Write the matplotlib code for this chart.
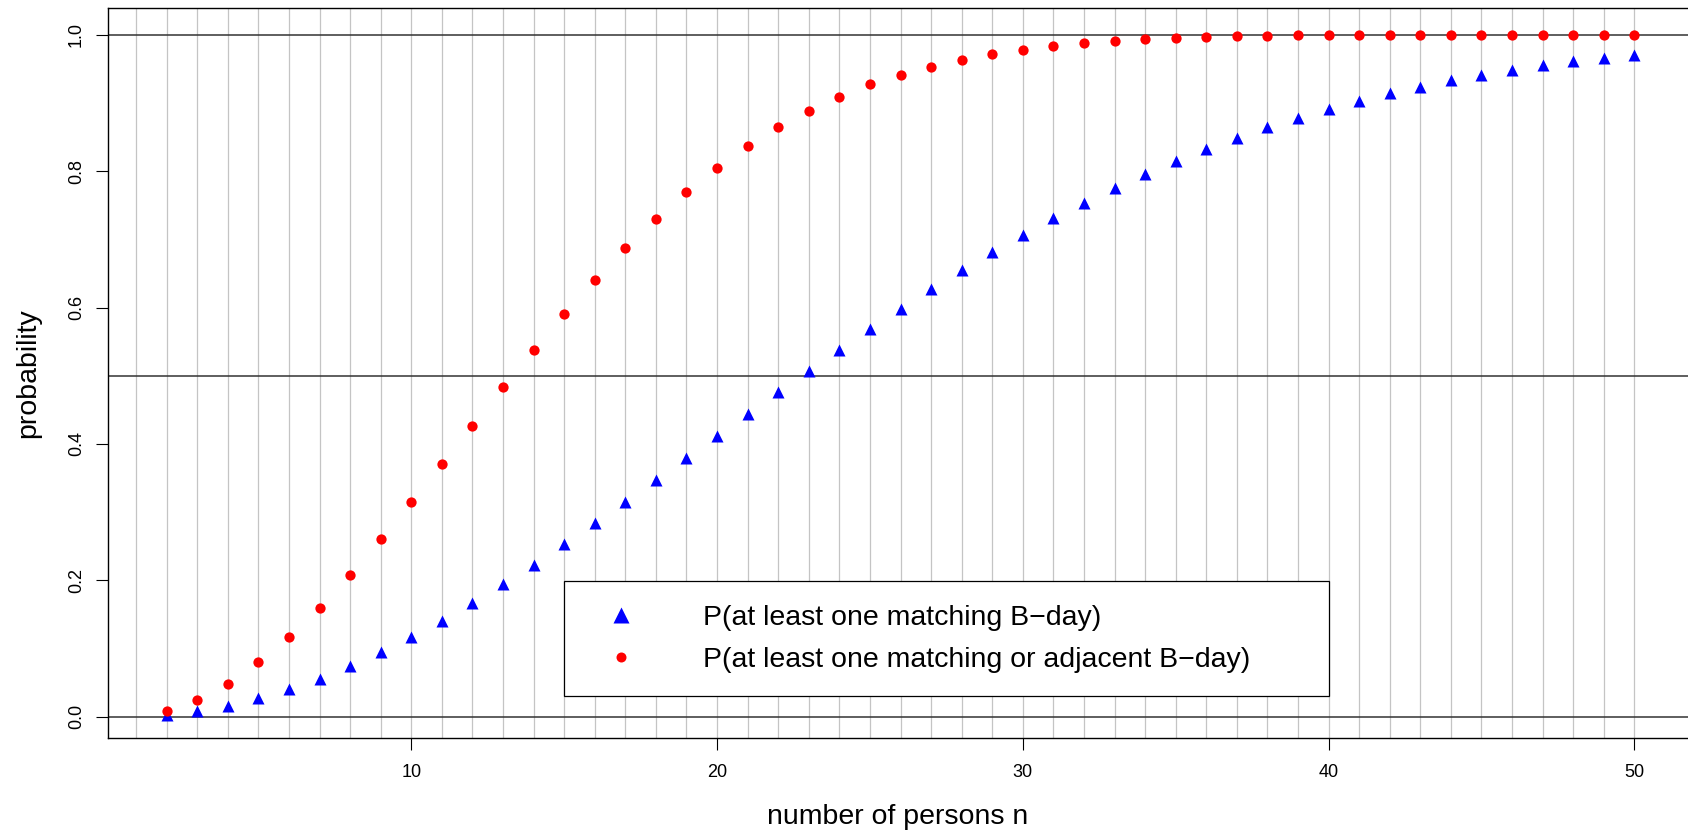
import matplotlib
matplotlib.use("Agg")
import matplotlib.pyplot as plt
import numpy as np

plt.rcParams["font.family"] = ["Liberation Sans", "DejaVu Sans"]

# number of persons
n = list(range(2, 51))

# P(at least one matching birthday)
p_match = [0.0027, 0.0082, 0.0164, 0.0271, 0.0405, 0.0562, 0.0743, 0.0946, 0.1169,
           0.1411, 0.1670, 0.1944, 0.2231, 0.2529, 0.2836, 0.3150, 0.3469, 0.3791,
           0.4114, 0.4437, 0.4757, 0.5073, 0.5383, 0.5687, 0.5982, 0.6269, 0.6545,
           0.6810, 0.7063, 0.7305, 0.7533, 0.7750, 0.7953, 0.8144, 0.8322, 0.8487,
           0.8641, 0.8782, 0.8912, 0.9032, 0.9140, 0.9239, 0.9329, 0.9410, 0.9483,
           0.9548, 0.9606, 0.9658, 0.9704]

# P(at least one matching or adjacent birthday)
p_adj = [0.008, 0.024, 0.048, 0.080, 0.117, 0.160, 0.208, 0.261, 0.315, 0.371,
         0.427, 0.483, 0.537, 0.590, 0.640, 0.687, 0.730, 0.770, 0.805, 0.837,
         0.865, 0.888, 0.909, 0.927, 0.941, 0.953, 0.963, 0.971, 0.978, 0.984,
         0.988, 0.991, 0.993, 0.995, 0.9965, 0.9975, 0.9983, 0.9988, 0.9992,
         0.9994, 0.9996, 0.9997, 0.9998, 0.9999, 0.9999, 1.0, 1.0, 1.0, 1.0]

grid_x = list(range(1, 51))
ref_y = [0.0, 0.5, 1.0]
x_ticks = [10, 20, 30, 40, 50]
y_ticks = [0.0, 0.2, 0.4, 0.6, 0.8, 1.0]

W, H = 1688, 833
fig = plt.figure(figsize=(W / 100, H / 100), dpi=100)
ax = fig.add_axes([108 / W, 1 - 738 / H, 1 - 108 / W, (738 - 8) / H])

ax.set_xlim(0.08, 51.756)
ax.set_ylim(-0.031, 1.039)

for gx in grid_x:
    ax.axvline(gx, color="#c4c4c4", lw=0.9, zorder=1)
for ry in ref_y:
    ax.axhline(ry, color="#333333", lw=1.1, zorder=2)

ax.plot(n, p_match, ls="none", marker="^", ms=8.5, color="#0000ff", mec="none",
        zorder=3, label="P(at least one matching B\u2212day)")
ax.plot(n, p_adj, ls="none", marker="o", ms=7.4, color="#ff0000", mec="none",
        zorder=3, label="P(at least one matching or adjacent B\u2212day)")

ax.set_xticks(x_ticks)
ax.set_yticks(y_ticks)
ax.set_yticklabels([f"{v:.1f}" for v in y_ticks], rotation=90, va="center")
ax.tick_params(length=8.5, width=0.8, labelsize=13)
ax.tick_params(axis="x", pad=10)
ax.tick_params(axis="y", pad=8)
for side in ["left", "bottom", "top"]:
    ax.spines[side].set_linewidth(1.0)
ax.spines["right"].set_visible(False)

ax.set_xlabel("number of persons n", fontsize=20.5, labelpad=17)
ax.set_ylabel("probability", fontsize=20.5, labelpad=19)

# legend box: 564..1329 px wide, top at 581 px
x0 = (564 - 108) / (W - 108)
w = (1329 - 564) / (W - 108)
y1 = (738 - 581) / 730
leg = ax.legend(loc="upper left", bbox_to_anchor=(x0, y1 - 0.5, w, 0.5),
                mode="expand", fontsize=20.5, frameon=True, fancybox=False,
                edgecolor="black", framealpha=1.0, borderpad=0.83,
                labelspacing=0.57, handlelength=2.34, handletextpad=1.7,
                borderaxespad=0.0)
leg.get_frame().set_linewidth(0.9)
leg.set_zorder(5)
leg.legend_handles[0].set_markersize(12)
leg.legend_handles[1].set_markersize(7.2)

fig.savefig("out.png", dpi=100)
